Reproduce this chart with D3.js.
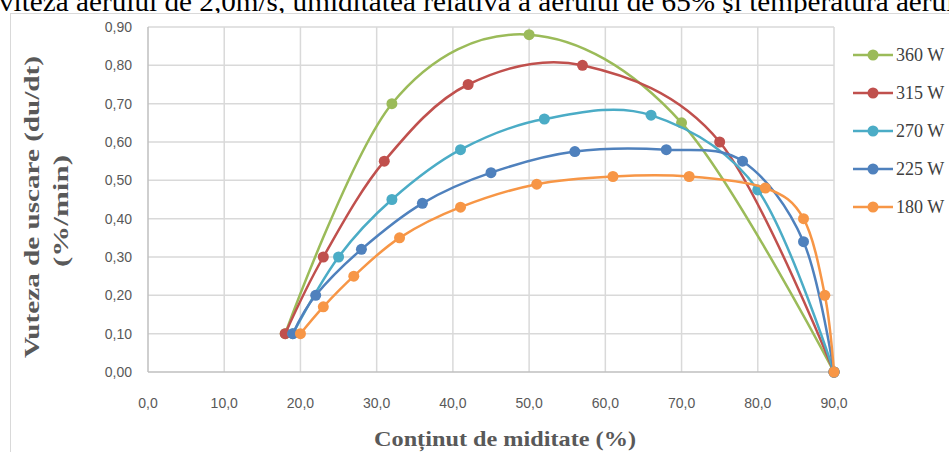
<!DOCTYPE html>
<html><head><meta charset="utf-8">
<script src="https://cdn.jsdelivr.net/npm/d3@7"></script>
<style>body{margin:0;background:#fff;}svg{display:block;}</style>
</head><body>
<svg id="c" width="949" height="452"></svg>
<script>
const seriesNames = ["360 W","315 W","270 W","225 W","180 W"];
const seriesColors = ["#9bbb59","#c0504d","#4bacc6","#4f81bd","#f79646"];
const s360 = [[18,0.10],[32,0.70],[50,0.88],[70,0.65],[90,0.00]];
const s315 = [[18,0.10],[23,0.30],[31,0.55],[42,0.75],[57,0.80],[75,0.60],[90,0.00]];
const s270 = [[19,0.10],[25,0.30],[32,0.45],[41,0.58],[52,0.66],[66,0.67],[80,0.475],[90,0.00]];
const s225 = [[19,0.10],[22,0.20],[28,0.32],[36,0.44],[45,0.52],[56,0.575],[68,0.58],[78,0.55],[86,0.34],[90,0.00]];
const s180 = [[20,0.10],[23,0.17],[27,0.25],[33,0.35],[41,0.43],[51,0.49],[61,0.51],[71,0.51],[81,0.48],[86,0.40],[88.8,0.20],[90,0.00]];
const seriesData = [s360,s315,s270,s225,s180];
const xTicks = [0,10,20,30,40,50,60,70,80,90];
const yTicks = [0,0.1,0.2,0.3,0.4,0.5,0.6,0.7,0.8,0.9];
const caption = "viteza aerului de 2,0m/s, umiditatea relativă a aerului de 65% şi temperatura aerului";
const yTitle1 = "Vuteza de uscare (du/dt)";
const yTitle2 = "(%/min)";
const xTitle = "Conținut de miditate (%)";

const svg = d3.select("#c");
const x = d3.scaleLinear().domain([0,90]).range([148,834]);
const y = d3.scaleLinear().domain([0,0.9]).range([372,27]);
const fmtX = v => d3.format(".1f")(v).replace(".",",");
const fmtY = v => d3.format(".2f")(v).replace(".",",");

// caption (top cut off as in the source)
svg.append("text").attr("x",-1).attr("y",11).attr("font-family","Liberation Serif")
  .attr("font-size",27).attr("fill","#000").attr("textLength",978).attr("lengthAdjust","spacingAndGlyphs").text(caption);
// frame
svg.append("rect").attr("x",10.5).attr("y",13.5).attr("width",980).attr("height",480)
  .attr("fill","#fff").attr("stroke","#d9d9d9").attr("stroke-width",1);

// grid
const g = svg.append("g");
g.selectAll(".vg").data(xTicks.slice(1)).join("line")
  .attr("x1",d=>x(d)).attr("x2",d=>x(d)).attr("y1",y(0.9)).attr("y2",y(0))
  .attr("stroke","#d9d9d9").attr("stroke-width",1.5);
g.selectAll(".hg").data(yTicks.slice(1)).join("line")
  .attr("x1",x(0)).attr("x2",x(90)).attr("y1",d=>y(d)).attr("y2",d=>y(d))
  .attr("stroke","#d9d9d9").attr("stroke-width",1.5);
// axes lines
g.append("line").attr("x1",x(0)).attr("x2",x(90)).attr("y1",y(0)).attr("y2",y(0)).attr("stroke","#bfbfbf").attr("stroke-width",1.5);
g.append("line").attr("x1",x(0)).attr("x2",x(0)).attr("y1",y(0.9)).attr("y2",y(0)).attr("stroke","#bfbfbf").attr("stroke-width",1.5);

// tick labels
g.selectAll(".yl").data(yTicks).join("text")
  .attr("x",132).attr("y",d=>y(d)+5).attr("text-anchor","end")
  .attr("font-family","Liberation Sans").attr("font-size",14).attr("fill","#595959")
  .text(fmtY);
g.selectAll(".xl").data(xTicks).join("text")
  .attr("x",d=>x(d)).attr("y",408).attr("text-anchor","middle")
  .attr("font-family","Liberation Sans").attr("font-size",14).attr("fill","#595959")
  .text(fmtX);

// axis titles
svg.append("text").attr("transform","translate(39,207) rotate(-90)").attr("text-anchor","middle")
  .attr("font-family","Liberation Serif").attr("font-weight","bold").attr("font-size",21)
  .attr("fill","#595959").attr("textLength",302).attr("lengthAdjust","spacingAndGlyphs").text(yTitle1);
svg.append("text").attr("transform","translate(68,211) rotate(-90)").attr("text-anchor","middle")
  .attr("font-family","Liberation Serif").attr("font-weight","bold").attr("font-size",21)
  .attr("fill","#595959").attr("textLength",112).attr("lengthAdjust","spacingAndGlyphs").text(yTitle2);
svg.append("text").attr("x",505).attr("y",446).attr("text-anchor","middle")
  .attr("font-family","Liberation Serif").attr("font-weight","bold").attr("font-size",22)
  .attr("fill","#595959").attr("textLength",262).attr("lengthAdjust","spacingAndGlyphs").text(xTitle);

// series
const line = d3.line().x(d=>x(d[0])).y(d=>y(d[1])).curve(d3.curveCardinal.tension(0));
seriesData.forEach((s,i)=>{
  const sg = svg.append("g");
  sg.append("path").attr("d",line(s)).attr("fill","none").attr("stroke",seriesColors[i]).attr("stroke-width",2.5);
  sg.selectAll("circle").data(s).join("circle").attr("cx",d=>x(d[0])).attr("cy",d=>y(d[1]))
    .attr("r",5.5).attr("fill",seriesColors[i]);
});

// legend
const lg = svg.append("g");
seriesNames.forEach((n,i)=>{
  const yy = 55 + i*38;
  lg.append("line").attr("x1",853).attr("x2",893).attr("y1",yy).attr("y2",yy).attr("stroke",seriesColors[i]).attr("stroke-width",2.5);
  lg.append("circle").attr("cx",873).attr("cy",yy).attr("r",5.5).attr("fill",seriesColors[i]);
  lg.append("text").attr("x",896).attr("y",yy+6).attr("font-family","Liberation Serif").attr("font-size",18)
    .attr("fill","#404040").text(n);
});
</script>
</body></html>
